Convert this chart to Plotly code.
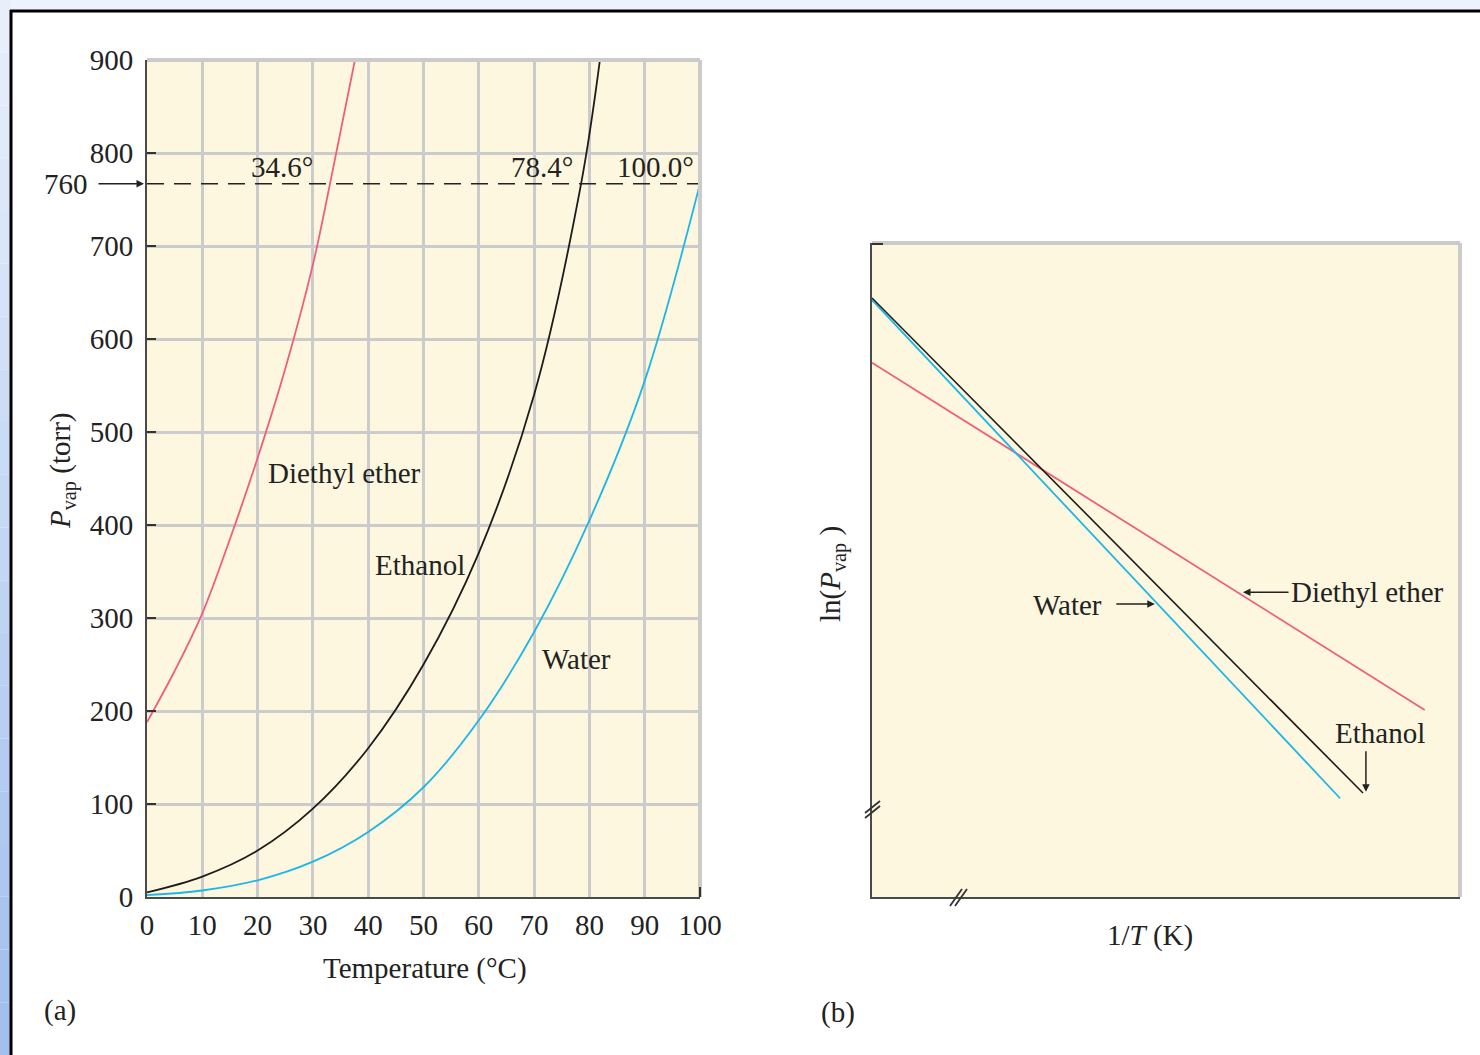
import plotly.graph_objects as go

# ---------------- data ----------------
temp_ether = [0, 5, 10, 15, 20, 25, 30, 33.1, 37.6]
p_ether = [188, 243, 305, 385, 472, 568, 680, 767, 900]

temp_ethanol = [0, 10, 20, 30, 40, 50, 60, 70, 78.5, 81.9]
p_ethanol = [5, 22, 50, 95, 160, 250, 370, 540, 767, 900]

temp_water = [0, 10, 20, 30, 40, 50, 60, 70, 80, 90, 100]
p_water = [2, 7, 18, 38, 70, 118, 190, 285, 405, 555, 767]

boil_labels = ["34.6°", "78.4°", "100.0°"]
boil_label_x = [24.4, 71.4, 91.9]
p_atm_label = "760"
p_atm_line = 767          # height at which the dashed 760-torr line is drawn in the picture

x_ticks = [0, 10, 20, 30, 40, 50, 60, 70, 80, 90, 100]
y_ticks = [0, 100, 200, 300, 400, 500, 600, 700, 800, 900]

# panel (b): 1/T (normalised) vs ln(Pvap) (normalised), straight lines
invT_water = [0.0, 0.796]
ln_water = [0.913, 0.151]
invT_ethanol = [0.0, 0.835]
ln_ethanol = [0.916, 0.159]
invT_ether = [0.0, 0.940]
ln_ether = [0.817, 0.286]

# ---------------- styling ----------------
W, H = 1480, 1055
FONT = "Liberation Serif"
FS = 29
C_ETHER = "#ef5f7c"
C_ETHANOL = "#1c1c1c"
C_WATER = "#1db6e6"
C_GRID = "#cbcbcb"
C_AX = "#4a4a4a"
BG = "#fcf7de"


def px(x):
    return x / W


def py(y):
    return 1 - y / H


fig = go.Figure()

# panel (a) curves
fig.add_trace(go.Scatter(x=temp_ether, y=p_ether, mode="lines",
                         line=dict(color=C_ETHER, width=1.8, shape="spline", smoothing=1.0),
                         xaxis="x", yaxis="y", showlegend=False))
fig.add_trace(go.Scatter(x=temp_ethanol, y=p_ethanol, mode="lines",
                         line=dict(color=C_ETHANOL, width=1.8, shape="spline", smoothing=1.0),
                         xaxis="x", yaxis="y", showlegend=False))
fig.add_trace(go.Scatter(x=temp_water, y=p_water, mode="lines",
                         line=dict(color=C_WATER, width=1.8, shape="spline", smoothing=1.0),
                         xaxis="x", yaxis="y", showlegend=False))
fig.add_trace(go.Scatter(x=[0, 100], y=[p_atm_line, p_atm_line], mode="lines",
                         line=dict(color="#222", width=1.6, dash="17px,10px"),
                         xaxis="x", yaxis="y", showlegend=False))

# panel (b) lines
fig.add_trace(go.Scatter(x=invT_ether, y=ln_ether, mode="lines", line=dict(color=C_ETHER, width=1.8),
                         xaxis="x2", yaxis="y2", showlegend=False))
fig.add_trace(go.Scatter(x=invT_water, y=ln_water, mode="lines", line=dict(color=C_WATER, width=1.8),
                         xaxis="x2", yaxis="y2", showlegend=False))
fig.add_trace(go.Scatter(x=invT_ethanol, y=ln_ethanol, mode="lines", line=dict(color=C_ETHANOL, width=1.6),
                         xaxis="x2", yaxis="y2", showlegend=False))

shapes = []
# background strips
shapes.append(dict(type="rect", xref="paper", yref="paper", x0=0, x1=1, y0=py(11), y1=1,
                   fillcolor="#edf3fc", line_width=0, layer="below"))
n = 20
for i in range(n):
    t = i / (n - 1)
    r = int(0xe8 + (0xa2 - 0xe8) * t)
    g = int(0xef + (0xc0 - 0xef) * t)
    b = int(0xfb + (0xee - 0xfb) * t)
    shapes.append(dict(type="rect", xref="paper", yref="paper", x0=0, x1=px(11),
                       y0=py(H * (i + 1) / n), y1=py(H * i / n),
                       fillcolor=f"rgb({r},{g},{b})", line_width=0, layer="below"))
# black frame
shapes.append(dict(type="line", xref="paper", yref="paper", x0=px(11), x1=px(11), y0=0, y1=py(10),
                   line=dict(color="#000", width=3)))
shapes.append(dict(type="line", xref="paper", yref="paper", x0=px(10), x1=1, y0=py(11), y1=py(11),
                   line=dict(color="#000", width=3)))

# panel (a) top/right gray frame
shapes.append(dict(type="line", xref="x domain", yref="y domain", x0=0, x1=1, y0=1, y1=1,
                   line=dict(color=C_GRID, width=4)))
shapes.append(dict(type="line", xref="x domain", yref="y domain", x0=1, x1=1, y0=0, y1=1,
                   line=dict(color=C_GRID, width=4)))
# small dark tick at the bottom-right corner of panel (a)
shapes.append(dict(type="line", xref="x domain", yref="paper", x0=1, x1=1, y0=py(897), y1=py(887),
                   line=dict(color="#333", width=2)))
# panel (b) top/right gray frame
shapes.append(dict(type="line", xref="x2 domain", yref="y2 domain", x0=0, x1=1, y0=1, y1=1,
                   line=dict(color=C_GRID, width=4)))
shapes.append(dict(type="line", xref="x2 domain", yref="y2 domain", x0=1, x1=1, y0=0, y1=1,
                   line=dict(color=C_GRID, width=4)))
shapes.append(dict(type="line", xref="paper", yref="paper", x0=px(872), x1=px(883), y0=py(244), y1=py(244),
                   line=dict(color="#333", width=2)))

# break marks on panel (b)
for d in (0, 5):
    shapes.append(dict(type="line", xref="paper", yref="paper",
                       x0=px(865), x1=px(880), y0=py(818 - d), y1=py(806 - d),
                       line=dict(color="#333", width=1.8)))
    shapes.append(dict(type="line", xref="paper", yref="paper",
                       x0=px(950 + d), x1=px(962 + d), y0=py(906), y1=py(889),
                       line=dict(color="#333", width=1.8)))

annotations = []
tf = dict(family=FONT, size=FS, color="#222")
C = dict(xanchor="center", yanchor="middle", showarrow=False, font=tf)

# panel (a) labels
annotations += [
    dict(x=35.8, y=456, xref="x", yref="y", text="Diethyl ether", **C),
    dict(x=49.4, y=357, xref="x", yref="y", text="Ethanol", **C),
    dict(x=77.6, y=256, xref="x", yref="y", text="Water", **C),
]
for lab, xx in zip(boil_labels, boil_label_x):
    annotations.append(dict(x=xx, y=p_atm_line, xref="x", yref="y", text=lab, showarrow=False,
                            xanchor="center", yanchor="bottom", yshift=-1, font=tf))
annotations.append(dict(x=px(66), y=p_atm_line, xref="paper", yref="y", text=p_atm_label, **C))
annotations.append(dict(x=0, y=p_atm_line, xref="x", yref="y", text="", showarrow=True, ax=-50, ay=0,
                        arrowhead=2, arrowsize=1, arrowwidth=1.5, arrowcolor="#222", standoff=3))
annotations.append(dict(x=px(425), y=py(968), xref="paper", yref="paper", text="Temperature (°C)", **C))
annotations.append(dict(x=px(62), y=py(471), xref="paper", yref="paper",
                        text="<i>P</i><sub>vap</sub> (torr)", textangle=-90, **C))
annotations.append(dict(x=px(60), y=py(1010), xref="paper", yref="paper", text="(a)", **C))

# panel (b) labels
annotations += [
    dict(x=0.332, y=0.446, xref="x2", yref="y2", text="Water", **C),
    dict(x=0.481, y=0.448, xref="x2", yref="y2", text="", showarrow=True, ax=-40, ay=0,
         arrowhead=2, arrowsize=1, arrowwidth=1.5, arrowcolor="#222"),
    dict(x=0.8435, y=0.466, xref="x2", yref="y2", text="Diethyl ether", **C),
    dict(x=0.631, y=0.466, xref="x2", yref="y2", text="", showarrow=True, ax=47, ay=0,
         arrowhead=2, arrowsize=1, arrowwidth=1.5, arrowcolor="#222"),
    dict(x=0.864, y=0.251, xref="x2", yref="y2", text="Ethanol", **C),
    dict(x=0.840, y=0.161, xref="x2", yref="y2", text="", showarrow=True, ax=0, ay=-42,
         arrowhead=2, arrowsize=1, arrowwidth=1.5, arrowcolor="#222"),
]
annotations.append(dict(x=px(1150), y=py(935), xref="paper", yref="paper", text="1/<i>T</i> (K)", **C))
annotations.append(dict(x=px(832), y=py(574), xref="paper", yref="paper",
                        text="ln(<i>P</i><sub>vap</sub> )", textangle=-90, **C))
annotations.append(dict(x=px(838), y=py(1012), xref="paper", yref="paper", text="(b)", **C))

fig.update_layout(
    width=W, height=H, autosize=False,
    margin=dict(l=0, r=0, t=0, b=0, pad=0, autoexpand=False),
    paper_bgcolor="white",
    plot_bgcolor=BG,
    font=tf,
    showlegend=False,
    shapes=shapes,
    annotations=annotations,
    xaxis=dict(domain=[px(147), px(700)], range=[0, 100], tickvals=x_ticks, ticktext=[str(v) for v in x_ticks],
               showgrid=True, gridcolor=C_GRID, gridwidth=3, zeroline=False, automargin=False,
               showline=True, linecolor=C_AX, linewidth=2, ticks="",
               tickfont=tf, anchor="y", ticklabelstandoff=1),
    yaxis=dict(domain=[py(897), py(60)], range=[0, 900], tickvals=y_ticks, ticktext=[str(v) for v in y_ticks],
               showgrid=True, gridcolor=C_GRID, gridwidth=3, zeroline=False, automargin=False,
               showline=True, linecolor=C_AX, linewidth=2, ticks="inside", ticklen=9, tickwidth=2,
               tickcolor="#333", tickfont=tf, anchor="x", ticklabelstandoff=6),
    xaxis2=dict(domain=[px(872), px(1460)], range=[0, 1], showgrid=False, zeroline=False, automargin=False,
                showticklabels=False, showline=True, linecolor=C_AX, linewidth=2, anchor="y2"),
    yaxis2=dict(domain=[py(897), py(243)], range=[0, 1], showgrid=False, zeroline=False, automargin=False,
                showticklabels=False, showline=True, linecolor=C_AX, linewidth=2, anchor="x2"),
)

fig.write_html("out.html", config={"displayModeBar": False},
               post_script="document.body.style.margin='0px';document.body.style.overflow='hidden';")
